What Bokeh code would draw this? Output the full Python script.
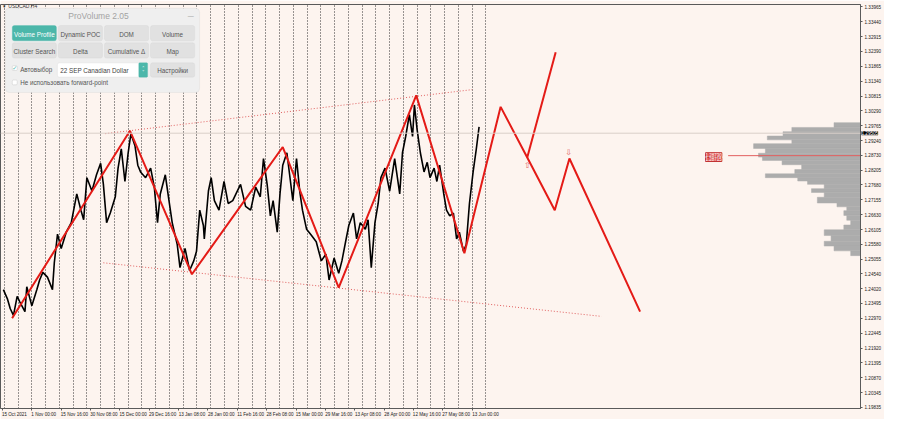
import numpy as np
from bokeh.plotting import figure
from bokeh.models import Range1d, FixedTicker, BoxAnnotation, Label, Span
from bokeh.core.properties import value
from bokeh.embed import file_html
from bokeh.resources import INLINE

# ---------------- data ----------------
# H4 bar index (0 = 15 Oct 2021 00:00) and close price of USDCAD
bars = [4, 13, 19, 26, 34, 40, 51, 55, 66, 77, 83, 90, 100, 111, 115, 122, 130, 141, 152, 164,
        173, 179, 186, 197, 207, 216, 222, 229, 237, 248, 254, 261, 269, 276, 282, 291, 297, 303,
        314, 325, 333, 340, 346, 357, 365, 372, 383, 389, 400, 410, 419, 425, 432, 440, 442, 451,
        457, 464, 474, 485, 494, 504, 511, 521, 532, 543, 554, 564, 571, 579, 586, 592, 601, 607,
        613, 622, 628, 635, 643, 650, 656, 665, 675, 686, 697, 707, 714, 725, 735, 742, 750, 757,
        767, 774, 782, 793, 799, 806, 814, 821, 827, 836, 846, 857, 868, 874, 881, 889, 896, 900,
        906, 913, 921, 928, 934, 943, 949, 955, 964, 970, 977, 985, 992, 998, 1007, 1013, 1020,
        1028, 1035, 1041]
close = [1.23985, 1.23647, 1.23309, 1.23073, 1.23748, 1.23546, 1.23208, 1.24086, 1.23411, 1.23985,
         1.24323, 1.24593, 1.24424, 1.23985, 1.24931, 1.25944, 1.25437, 1.26011, 1.26349, 1.27362,
         1.26788, 1.26450, 1.27936, 1.27464, 1.28038, 1.28443, 1.27700, 1.26349, 1.26687, 1.27261,
         1.28274, 1.28950, 1.27801, 1.28815, 1.29490, 1.29051, 1.28375, 1.28139, 1.27936, 1.28274,
         1.27599, 1.26349, 1.27362, 1.28038, 1.27126, 1.26349, 1.25572, 1.24762, 1.25437, 1.24660,
         1.24998, 1.25336, 1.26788, 1.26248, 1.25775, 1.27464, 1.27936, 1.27126, 1.26788, 1.27801,
         1.27025, 1.27126, 1.27362, 1.27700, 1.26923, 1.26788, 1.27599, 1.27261, 1.28612, 1.27700,
         1.26585, 1.27126, 1.26011, 1.27362, 1.28375, 1.28815, 1.28038, 1.27126, 1.28612, 1.27464,
         1.26788, 1.26113, 1.25910, 1.25674, 1.24998, 1.25234, 1.24323, 1.25099, 1.24559, 1.24998,
         1.25674, 1.26248, 1.26687, 1.25775, 1.26349, 1.26113, 1.26450, 1.24762, 1.26349, 1.27025,
         1.27936, 1.28274, 1.27464, 1.28612, 1.27362, 1.28815, 1.29389, 1.30165, 1.29389, 1.30503,
         1.29625, 1.28815, 1.28139, 1.28477, 1.27936, 1.28274, 1.27801, 1.28375, 1.27362, 1.26788,
         1.26585, 1.26687, 1.25775, 1.26011, 1.25336, 1.25572, 1.27025, 1.28139, 1.28950, 1.29726]

# ZigZag (history + projection)
zz_bar = [23, 280, 415, 613, 735, 904, 1009, 1088, 1146, 1206, 1238, 1392]
zz_price = [1.22972, 1.29591, 1.24525, 1.29017, 1.24052, 1.30841, 1.25268, 1.30436, 1.28646,
            1.26788, 1.28612, 1.23208]
alt_bar = [1146, 1208]
alt_price = [1.28646, 1.32361]

# channel lines
upper_bar = [226, 1026]
upper_price = [1.29490, 1.31044]
lower_bar = [222, 1308]
lower_price = [1.24931, 1.23039]

# projection arrows
arrow_bar = [1146, 1236]
arrow_price = [1.28375, 1.28815]
arrow_text = ["\u21e7", "\u21e9"]

# time axis
label_bars = [2, 66, 130, 194, 258, 322, 386, 450, 514, 578, 642, 706, 770, 834, 898, 962, 1026]
time_labels = ["15 Oct 2021", "1 Nov 00:00", "15 Nov 16:00", "30 Nov 08:00", "15 Dec 00:00",
               "29 Dec 16:00", "13 Jan 08:00", "28 Jan 00:00", "11 Feb 16:00", "28 Feb 08:00",
               "15 Mar 00:00", "29 Mar 16:00", "13 Apr 08:00", "28 Apr 00:00", "12 May 16:00",
               "27 May 08:00", "13 Jun 00:00"]
week_bars = [6, 36, 66, 96, 126, 156, 186, 216, 246, 276, 306, 336, 366, 396, 426, 456, 486, 516,
             546, 576, 606, 636, 666, 696, 726, 756, 786, 816, 846, 876, 906, 936, 966, 996, 1026, 1056]

# price axis
price_ticks = [1.33965, 1.33440, 1.32915, 1.32390, 1.31865, 1.31340, 1.30815, 1.30290, 1.29765,
               1.29240, 1.28730, 1.28205, 1.27680, 1.27155, 1.26630, 1.26105, 1.25580, 1.25055,
               1.24540, 1.24020, 1.23495, 1.22970, 1.22445, 1.21920, 1.21395, 1.20870, 1.20345,
               1.19835]
current_price = 1.29505
poc_price = 1.28713
poc_labels = ["1.28730", "1.28715"]

# volume profile (price level, volume)
profile_price = [1.29794, 1.29625, 1.29490, 1.29321, 1.29220, 1.29051, 1.28882, 1.28713, 1.28612,
                 1.28477, 1.28308, 1.28139, 1.28004, 1.27869, 1.27768, 1.27632, 1.27464, 1.27362,
                 1.27126, 1.26957, 1.26856, 1.26687, 1.26518, 1.26349, 1.26180, 1.26011, 1.25775,
                 1.25606, 1.25437, 1.25268]
profile_volume = [270, 700, 790, 950, 700, 1090, 970, 1040, 1000, 800, 600, 670, 970, 640, 540,
                  370, 500, 370, 440, 240, 140, 170, 140, 100, 170, 370, 300, 370, 270, 100]

# ---------------- figure ----------------
BG = "#fdf4ef"
x_lo, x_hi = -2.3, 1872.5
y_lo, y_hi = 1.19787, 1.34049
W, H = 884, 419
AXIS_W = 23
bars_per_px = (x_hi - x_lo) / (W - AXIS_W)

p = figure(width=W, height=H, x_range=Range1d(x_lo, x_hi), y_range=Range1d(y_lo, y_hi),
           y_axis_location="right", output_backend="svg", toolbar_location=None,
           background_fill_color=BG, border_fill_color=BG)
p.min_border_left = 0
p.min_border_top = 2
p.min_border_bottom = 0
p.min_border_right = 0
p.outline_line_color = "#5a5a5a"
p.outline_line_width = 1

p.ygrid.visible = False
p.xgrid.ticker = FixedTicker(ticks=week_bars)
p.xgrid.grid_line_color = "#303030"
p.xgrid.grid_line_dash = "1 2"
p.xgrid.grid_line_width = 1

AX_FONT = "Liberation Sans"
AX_SIZE = "4.6px"
# MT4 style: label text starts at its tick -> shift label centres right by half the label width
shifted = [int(round(b + len(t) * 1.1 * bars_per_px)) for b, t in zip(label_bars, time_labels)]
p.xaxis.ticker = FixedTicker(ticks=shifted, minor_ticks=label_bars)
p.xaxis.major_label_overrides = {s: t for s, t in zip(shifted, time_labels)}
p.xaxis.major_label_text_font = AX_FONT
p.xaxis.major_label_text_font_size = AX_SIZE
p.xaxis.major_label_text_color = "#222222"
p.xaxis.major_label_standoff = 1
p.xaxis.major_tick_out = 0
p.xaxis.major_tick_in = 0
p.xaxis.minor_tick_out = 2
p.xaxis.minor_tick_in = 0
p.xaxis.axis_line_color = "#5a5a5a"
p.xaxis.minor_tick_line_color = "#5a5a5a"

p.yaxis.ticker = FixedTicker(ticks=price_ticks)
p.yaxis.major_label_overrides = {v: f"{v:.5f}" for v in price_ticks}
p.yaxis.major_label_text_font = AX_FONT
p.yaxis.major_label_text_font_size = AX_SIZE
p.yaxis.major_label_text_color = "#222222"
p.yaxis.major_label_standoff = 2
p.yaxis.major_tick_out = 2
p.yaxis.major_tick_in = 0
p.yaxis.minor_tick_out = 0
p.yaxis.axis_line_color = "#5a5a5a"
p.yaxis.major_tick_line_color = "#5a5a5a"

# current price line
p.add_layout(Span(location=current_price, dimension="width", line_color="#d9cfca", line_width=1))

# volume profile: each level covers the band between the midpoints to its neighbours
lv = np.array(profile_price)
mids = (lv[:-1] + lv[1:]) / 2
tops = np.concatenate([[lv[0] + (lv[0] - mids[0])], mids])
bots = np.concatenate([mids, [lv[-1] - (mids[-1] - lv[-1])]])
vol = np.array(profile_volume, dtype=float)
bars_per_lot = 0.2138
p.quad(top=tops, bottom=bots, right=x_hi, left=x_hi - vol * bars_per_lot,
       fill_color="#acacac", line_color="#acacac", line_width=0.5)
p.segment(x0=[(742 - 1.06) * 2.1377], x1=[x_hi], y0=[poc_price], y1=[poc_price],
          line_color="#e26060", line_width=1)

# channel lines
p.line(upper_bar, upper_price, line_color="#e06060", line_dash="1 2", line_width=1)
p.line(lower_bar, lower_price, line_color="#e06060", line_dash="1 2", line_width=1)

# price
p.line(bars, close, line_color="#000000", line_width=1.6)

# zigzag
p.line(zz_bar, zz_price, line_color="#e41b17", line_width=2)
p.line(alt_bar, alt_price, line_color="#e41b17", line_width=2)
p.text(arrow_bar, arrow_price, text=arrow_text, text_color="#e06060", text_font_size="8px",
       text_align="center", text_baseline="middle", text_font=value("DejaVu Sans"))

# ---------------- screen-pixel helpers for the panel ----------------
def X(px):
    return (px - 1.06) * 2.1377


def Y(py):
    return 1.34117 - 0.00033774 * py


def box(l, t, r, b, fill, line="#c9c9c9", radius=2):
    p.add_layout(BoxAnnotation(left=X(l), right=X(r), top=Y(t), bottom=Y(b), fill_color=fill,
                               fill_alpha=1, line_color=line, line_width=1, border_radius=radius,
                               level="overlay"))


def txt(px, py, s, size="6px", color="#555555", align="center", font="Liberation Sans"):
    p.add_layout(Label(x=X(px), y=Y(py), text=s, text_font_size=size, text_color=color,
                       text_align=align, text_baseline="middle", text_font=font,
                       level="overlay"))


# symbol title
txt(3, 4, "\u25be", size="5px", color="#333333", align="left")
txt(8, 4, "USDCAD,H4", size="5px", color="#333333", align="left")

# panel
box(5, 6, 203, 94, "#efefef", line="#d0d0d0", radius=4)
txt(100, 14, "ProVolume 2.05", size="8.5px", color="#a3a3a3")
txt(194, 14, "\u2014", size="6px", color="#8a8a8a")

cols = [(12, 57), (59, 104), (106, 151), (153, 198)]
row1 = ["Volume Profile", "Dynamic POC", "DOM", "Volume"]
row2 = ["Cluster Search", "Delta", "Cumulative \u0394", "Map"]
for (l, r), name in zip(cols, row1):
    vp = name == "Volume Profile"
    box(l, 24, r, 40, "#4cb7aa" if vp else "#e1e1e1", line="#4cb7aa" if vp else "#cfcfcf")
    txt((l + r) / 2, 33, name, size="6.3px", color="#ffffff" if vp else "#555555")
for (l, r), name in zip(cols, row2):
    box(l, 42, r, 58, "#e1e1e1", line="#cfcfcf")
    txt((l + r) / 2, 51, name, size="6.3px")

# checkbox + dropdown + settings
box(12, 66, 17, 71, "#ffffff", line="#b0b0b0", radius=1)
txt(14.5, 68, "\u2713", size="6px", color="#4cb7aa", font="DejaVu Sans")
txt(20, 70, "\u0410\u0432\u0442\u043e\u0432\u044b\u0431\u043e\u0440", size="6.3px", align="left")
box(58, 63, 150, 78, "#ffffff", line="#cfcfcf")
box(141, 63, 150, 78, "#4cb7aa", line="#4cb7aa", radius=1)
txt(145.5, 68, "\u02c4", size="5px", color="#ffffff", font="DejaVu Sans")
txt(145.5, 73, "\u02c5", size="5px", color="#ffffff", font="DejaVu Sans")
txt(61, 71, "22 SEP Canadian Dollar", size="6.3px", color="#444444", align="left")
box(153, 63, 198, 78, "#e1e1e1", line="#cfcfcf")
txt(175.5, 71, "\u041d\u0430\u0441\u0442\u0440\u043e\u0439\u043a\u0438", size="6.3px")
box(12, 81, 17, 86, "#ffffff", line="#b0b0b0", radius=1)
txt(20, 84, "\u041d\u0435 \u0438\u0441\u043f\u043e\u043b\u044c\u0437\u043e\u0432\u0430\u0442\u044c forward-point",
    size="6.3px", align="left")

# POC labels
for i, s in enumerate(poc_labels):
    p.add_layout(Label(x=X(719), y=Y(159 + i * 5), text=s, text_font_size="4.5px",
                       text_color="#ffffff", background_fill_color="#e05555",
                       border_line_color="#c03030", text_baseline="middle",
                       text_font="Liberation Sans"))

# current price tag on the price axis (placed in a side panel so it is not clipped to the frame)
tag = Label(x=x_hi, y=current_price, text=f"{current_price:.5f}", text_font_size="4.6px",
            text_color="#ffffff", background_fill_color="#000000", text_baseline="middle",
            x_offset=1, text_font="Liberation Sans", padding=0)
p.add_layout(tag, "above")

open("out.html", "w").write(file_html(p, INLINE))
